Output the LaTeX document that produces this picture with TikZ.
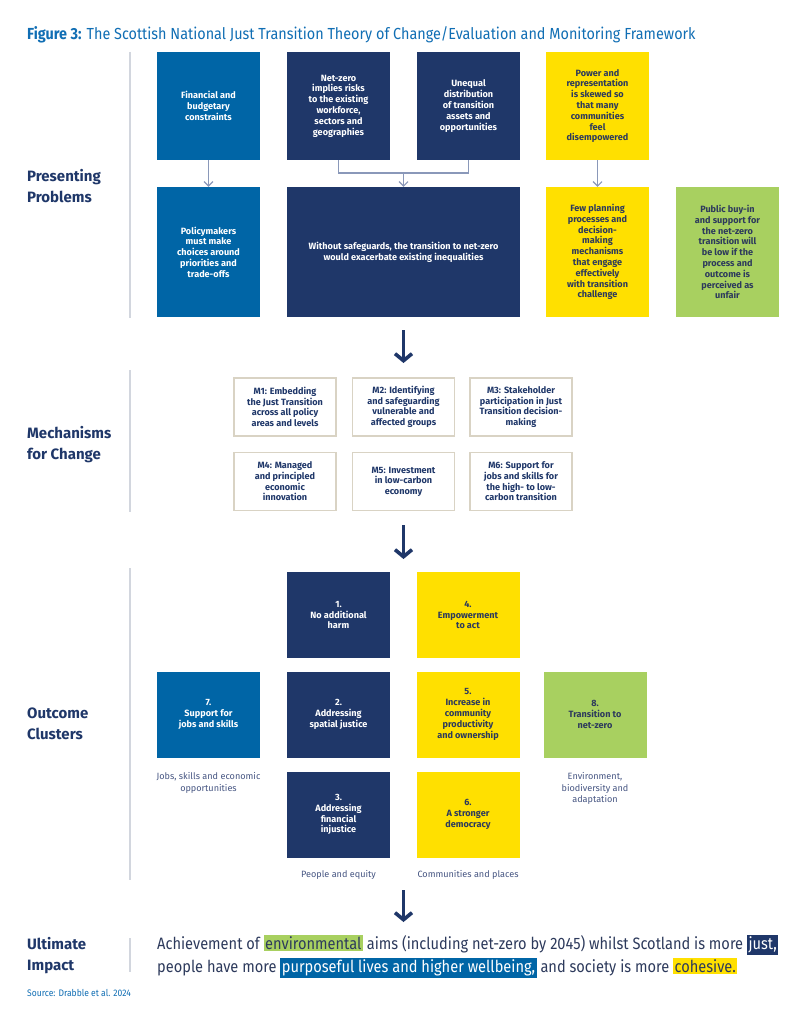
\documentclass[tikz,border=0pt]{standalone}
\usepackage{fontspec}
\setmainfont{Fira Sans}
\newfontfamily\titlefont[FakeStretch=0.9]{Fira Sans}
\newfontfamily\impactfont[FakeStretch=0.885]{Fira Sans}
\usetikzlibrary{arrows.meta}

\definecolor{jtblue}{RGB}{0,101,166}
\definecolor{jtnavy}{RGB}{31,55,105}
\definecolor{jtyellow}{RGB}{255,224,0}
\definecolor{jtgreen}{RGB}{168,208,96}
\definecolor{jtink}{RGB}{45,58,92}
\definecolor{jtbeige}{RGB}{217,211,196}
\definecolor{jtline}{RGB}{138,152,185}
\definecolor{jtrule}{RGB}{210,214,222}
\definecolor{jttitle}{RGB}{16,110,180}
\definecolor{jtcap}{RGB}{70,85,130}

\newcommand{\jthl}[3]{{\setlength{\fboxsep}{1.5pt}\colorbox{#1}{\textcolor{#2}{#3}}}}

\tikzset{
	box/.style={minimum width=103pt, inner sep=0pt, align=center,
		font=\fontsize{9.1}{10.8}\selectfont\bfseries},
	bluebox/.style={box, fill=jtblue, text=white},
	navybox/.style={box, fill=jtnavy, text=white},
	yellowbox/.style={box, fill=jtyellow, text=jtink},
	greenbox/.style={box, fill=jtgreen, text=jtink},
	mech/.style={draw=jtbeige, line width=1.3pt, minimum width=102pt, minimum height=58pt,
		inner sep=0pt, align=center, text=jtnavy, font=\fontsize{9.1}{10.6}\selectfont\bfseries},
	section/.style={anchor=west, align=left, text=jtnavy, inner sep=0pt,
		font=\fontsize{15}{21}\selectfont\bfseries},
	caption/.style={align=center, text=jtcap, font=\fontsize{9.1}{11.5}\selectfont},
	thinarrow/.style={draw=jtline, line width=1.1pt, -{Straight Barb[length=4.5pt,width=9pt]}},
	bigarrow/.style={draw=jtnavy, line width=3.6pt, -{Straight Barb[length=7pt,width=17pt]}},
	rule/.style={draw=jtrule, line width=1.2pt}
}

\begin{document}
\begin{tikzpicture}[x=1pt,y=-1pt]
	\useasboundingbox[fill=white] (0,0) rectangle (806,1024);

	\node[anchor=west, text=jttitle, inner sep=0pt, font=\titlefont\fontsize{16}{18}\selectfont] (title) at (27,35)
		{\bfseries Figure 3:\mdseries{} The Scottish National Just Transition Theory of Change/Evaluation and Monitoring Framework};

	% presenting problems
	\node[section] (lblprob) at (27,186) {Presenting\\Problems};
	\draw[rule] (130,52) -- (130,318);

	\node[bluebox, minimum height=108pt] (fin) at (208.5,106) {Financial and\\budgetary\\constraints};
	\node[navybox, minimum height=108pt] (netz) at (338.5,106) {Net-zero\\implies risks\\to the existing\\workforce,\\sectors and\\geographies};
	\node[navybox, minimum height=108pt] (uneq) at (468.5,106) {Unequal\\distribution\\of transition\\assets and\\opportunities};
	\node[yellowbox, minimum height=108pt] (power) at (597.5,106) {Power and\\representation\\is skewed so\\that many\\communities\\feel\\disempowered};

	\node[bluebox, minimum height=130pt] (policy) at (208.5,252) {Policymakers\\must make\\choices around\\priorities and\\trade-offs};
	\node[navybox, minimum height=130pt, minimum width=233pt] (safe) at (403.5,252) {Without safeguards, the transition to net-zero\\would exacerbate existing inequalities};
	\node[yellowbox, minimum height=130pt] (plan) at (597.5,252) {Few planning\\processes and\\decision-\\making\\mechanisms\\that engage\\effectively\\with transition\\challenge};
	\node[greenbox, minimum height=130pt] (buyin) at (727.5,252) {Public buy-in\\and support for\\the net-zero\\transition will\\be low if the\\process and\\outcome is\\perceived as\\unfair};

	\coordinate (join) at (403.5,173);
	\draw[draw=jtline, line width=1.1pt] (netz.south) |- (join) -| (uneq.south);
	\draw[thinarrow] (join) -- (safe.north);
	\draw[thinarrow] (fin) -- (policy);
	\draw[thinarrow] (power) -- (plan);

	\coordinate (a1top) at (403.5,330);
	\coordinate (a1bot) at (403.5,363);
	\draw[bigarrow] (a1top) -- (a1bot);

	% mechanisms
	\node[section] (lblmech) at (27,445) {Mechanisms\\for Change};
	\draw[rule] (130,370) -- (130,512);

	\node[mech] (m1) at (285,407) {M1: Embedding\\the Just Transition\\across all policy\\areas and levels};
	\node[mech] (m2) at (403.5,407) {M2: Identifying\\and safeguarding\\vulnerable and\\affected groups};
	\node[mech] (m3) at (521,407) {M3: Stakeholder\\participation in Just\\Transition decision-\\making};
	\node[mech] (m4) at (285,481.5) {M4: Managed\\and principled\\economic\\innovation};
	\node[mech] (m5) at (403.5,481.5) {M5: Investment\\in low-carbon\\economy};
	\node[mech] (m6) at (521,481.5) {M6: Support for\\jobs and skills for\\the high- to low-\\carbon transition};

	\coordinate (a2top) at (403.5,525);
	\coordinate (a2bot) at (403.5,559);
	\draw[bigarrow] (a2top) -- (a2bot);

	% outcome clusters
	\node[section] (lblout) at (27,724) {Outcome\\Clusters};
	\draw[rule] (130,568) -- (130,880);

	\node[navybox, minimum height=86pt] (o1) at (338.5,615) {1.\\No additional\\harm};
	\node[navybox, minimum height=86pt] (o2) at (338.5,714.5) {2.\\Addressing\\spatial justice};
	\node[navybox, minimum height=86pt] (o3) at (338.5,814.5) {3.\\Addressing\\financial\\injustice};
	\node[yellowbox, minimum height=86pt] (o4) at (468,615) {4.\\Empowerment\\to act};
	\node[yellowbox, minimum height=86pt] (o5) at (468,714.5) {5.\\Increase in\\community\\productivity\\and ownership};
	\node[yellowbox, minimum height=86pt] (o6) at (468,814.5) {6.\\A stronger\\democracy};
	\node[bluebox, minimum height=86pt] (o7) at (208.5,714.5) {7.\\Support for\\jobs and skills};
	\node[greenbox, minimum height=86pt] (o8) at (595,714.5) {8.\\Transition to\\net-zero};

	\node[caption, anchor=north] (capjobs) at (208.5,769) {Jobs, skills and economic\\opportunities};
	\node[caption, anchor=north] (capenv) at (595,769) {Environment,\\biodiversity and\\adaptation};
	\node[caption] (cappeople) at (338.5,875) {People and equity};
	\node[caption] (capcomm) at (468,875) {Communities and places};

	\coordinate (a3top) at (403.5,890);
	\coordinate (a3bot) at (403.5,922);
	\draw[bigarrow] (a3top) -- (a3bot);

	% ultimate impact
	\node[section] (lblimp) at (27,956) {Ultimate\\Impact};
	\draw[rule] (130,938) -- (130,972);

	\node[anchor=west, align=left, text=jtink, inner sep=0pt,
		font=\impactfont\fontsize{16.5}{23}\selectfont] (impact) at (157,956.5)
		{Achievement of \jthl{jtgreen}{jtink}{environmental} aims (including net-zero by 2045) whilst Scotland is more \jthl{jtnavy}{white}{just,}\\
		people have more \jthl{jtblue}{white}{purposeful lives and higher wellbeing,} and society is more \jthl{jtyellow}{jtink}{cohesive.}};

	\node[anchor=west, text=jttitle, inner sep=0pt, font=\titlefont\fontsize{9.5}{11}\selectfont] (source) at (27,993) {Source: Drabble et al. 2024};
\end{tikzpicture}
\end{document}
